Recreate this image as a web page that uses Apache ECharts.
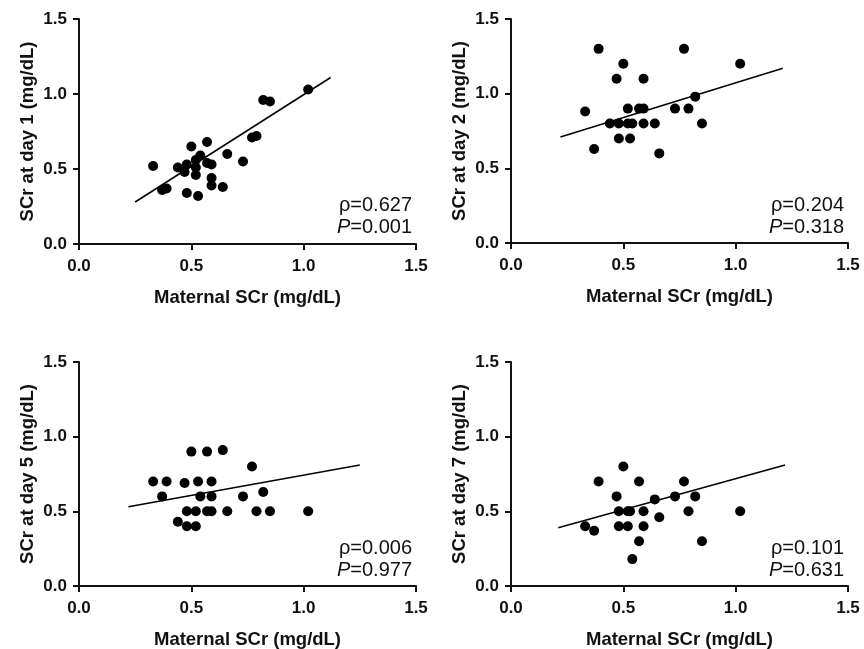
<!DOCTYPE html>
<html lang="en">
<head>
    <meta charset="UTF-8">
    <title>Maternal SCr vs neonatal SCr</title>
    <script src="https://cdn.jsdelivr.net/npm/echarts@6/dist/echarts.min.js"></script>
    <style>
        html, body { margin: 0; padding: 0; background: #fff; }
    </style>
</head>
<body>
    <div id="chart" style="width: 864px; height: 649px;"></div>

    <script>
        // maternal SCr (x) and neonatal SCr (y)
        var day1X = [0.33, 0.37, 0.39, 0.44, 0.47, 0.48, 0.48, 0.50, 0.52, 0.52, 0.52, 0.53, 0.54, 0.57, 0.57, 0.59, 0.59, 0.59, 0.64, 0.66, 0.73, 0.77, 0.79, 0.82, 0.85, 1.02];
        var day1Y = [0.52, 0.36, 0.37, 0.51, 0.48, 0.53, 0.34, 0.65, 0.56, 0.51, 0.46, 0.32, 0.59, 0.68, 0.54, 0.53, 0.44, 0.39, 0.38, 0.60, 0.55, 0.71, 0.72, 0.96, 0.95, 1.03];

        var day2X = [0.33, 0.37, 0.39, 0.44, 0.47, 0.48, 0.48, 0.50, 0.52, 0.52, 0.53, 0.54, 0.57, 0.59, 0.59, 0.59, 0.64, 0.66, 0.73, 0.77, 0.79, 0.82, 0.85, 1.02];
        var day2Y = [0.88, 0.63, 1.30, 0.80, 1.10, 0.80, 0.70, 1.20, 0.90, 0.80, 0.70, 0.80, 0.90, 0.90, 1.10, 0.80, 0.80, 0.60, 0.90, 1.30, 0.90, 0.98, 0.80, 1.20];

        var day5X = [0.33, 0.37, 0.39, 0.44, 0.47, 0.48, 0.48, 0.50, 0.52, 0.52, 0.53, 0.54, 0.57, 0.57, 0.59, 0.59, 0.59, 0.64, 0.66, 0.73, 0.77, 0.79, 0.82, 0.85, 1.02];
        var day5Y = [0.70, 0.60, 0.70, 0.43, 0.69, 0.50, 0.40, 0.90, 0.50, 0.40, 0.70, 0.60, 0.90, 0.50, 0.70, 0.60, 0.50, 0.91, 0.50, 0.60, 0.80, 0.50, 0.63, 0.50, 0.50];

        var day7X = [0.33, 0.37, 0.39, 0.47, 0.48, 0.48, 0.50, 0.52, 0.52, 0.53, 0.54, 0.57, 0.57, 0.59, 0.59, 0.64, 0.66, 0.73, 0.77, 0.79, 0.82, 0.85, 1.02];
        var day7Y = [0.40, 0.37, 0.70, 0.60, 0.50, 0.40, 0.80, 0.50, 0.40, 0.50, 0.18, 0.70, 0.30, 0.50, 0.40, 0.58, 0.46, 0.60, 0.70, 0.50, 0.60, 0.30, 0.50];

        // regression line end points [x0, y0, x1, y1]
        var fit1 = [0.25, 0.28, 1.12, 1.11];
        var fit2 = [0.22, 0.71, 1.21, 1.17];
        var fit3 = [0.22, 0.53, 1.25, 0.81];
        var fit4 = [0.21, 0.39, 1.22, 0.81];

        var yNames = ['SCr at day 1 (mg/dL)', 'SCr at day 2 (mg/dL)', 'SCr at day 5 (mg/dL)', 'SCr at day 7 (mg/dL)'];
        var rhoText = ['0.627', '0.204', '0.006', '0.101'];
        var pText = ['0.001', '0.318', '0.977', '0.631'];
        var axisTicks = [0, 0.5, 1.0, 1.5];

        var FONT = 'Liberation Sans, Arial, sans-serif';
        var INK = '#111';

        var panels = [
            { x: day1X, y: day1Y, fit: fit1 },
            { x: day2X, y: day2Y, fit: fit2 },
            { x: day5X, y: day5Y, fit: fit3 },
            { x: day7X, y: day7Y, fit: fit4 }
        ];
        // grid boxes in px
        var boxes = [
            { left: 79, top: 19, height: 225 },
            { left: 511, top: 19, height: 224 },
            { left: 79, top: 362, height: 224 },
            { left: 511, top: 362, height: 224 }
        ];

        function pairs(xs, ys) {
            return xs.map(function (v, i) { return [v, ys[i]]; });
        }

        var grids = [], xAxes = [], yAxes = [], series = [], graphics = [];

        panels.forEach(function (p, i) {
            var b = boxes[i];
            grids.push({ left: b.left, top: b.top, width: 337, height: b.height, outerBoundsMode: 'none', containLabel: false });

            var common = {
                type: 'value',
                gridIndex: i,
                min: axisTicks[0],
                max: axisTicks[axisTicks.length - 1],
                interval: 0.5,
                splitLine: { show: false },
                axisLine: { show: true, onZero: false, lineStyle: { color: INK, width: 2 } },
                axisTick: { show: true, length: 6, lineStyle: { color: INK, width: 2 } },
                axisLabel: {
                    color: INK, fontSize: 17, fontWeight: 'bold', fontFamily: FONT,
                    formatter: function (v) { return v.toFixed(1); }
                },
                nameLocation: 'middle',
                nameTextStyle: { color: INK, fontSize: 18.5, fontWeight: 'bold', fontFamily: FONT }
            };

            xAxes.push(Object.assign({}, common, {
                name: 'Maternal SCr (mg/dL)',
                nameGap: 44,
                axisLabel: Object.assign({}, common.axisLabel, { margin: 14 })
            }));
            yAxes.push(Object.assign({}, common, {
                name: yNames[i],
                nameGap: 42,
                axisLabel: Object.assign({}, common.axisLabel, { margin: 12 })
            }));

            series.push({
                type: 'scatter',
                xAxisIndex: i,
                yAxisIndex: i,
                symbolSize: 10,
                itemStyle: { color: '#000', opacity: 1 },
                data: pairs(p.x, p.y)
            });
            series.push({
                type: 'line',
                xAxisIndex: i,
                yAxisIndex: i,
                showSymbol: false,
                silent: true,
                lineStyle: { color: '#000', width: 1.5 },
                data: [[p.fit[0], p.fit[1]], [p.fit[2], p.fit[3]]]
            });

            // correlation labels, bottom right of each panel
            var rx = b.left + 333;
            var ry = b.top + 185;
            graphics.push({
                type: 'text',
                right: 864 - rx,
                top: ry - 9,
                style: {
                    text: 'ρ=' + rhoText[i],
                    fill: INK, fontSize: 20, fontFamily: FONT
                }
            });
            graphics.push({
                type: 'text',
                right: 864 - rx,
                top: ry + 13,
                style: {
                    text: '{i|P}=' + pText[i],
                    fill: INK, fontSize: 20, fontFamily: FONT,
                    rich: { i: { fontStyle: 'italic', fontSize: 20, fontFamily: FONT, fill: INK } }
                }
            });
        });

        var chart = echarts.init(document.getElementById('chart'));
        chart.setOption({
            backgroundColor: '#fff',
            animation: false,
            grid: grids,
            xAxis: xAxes,
            yAxis: yAxes,
            series: series,
            graphic: graphics
        });
    </script>
</body>
</html>
